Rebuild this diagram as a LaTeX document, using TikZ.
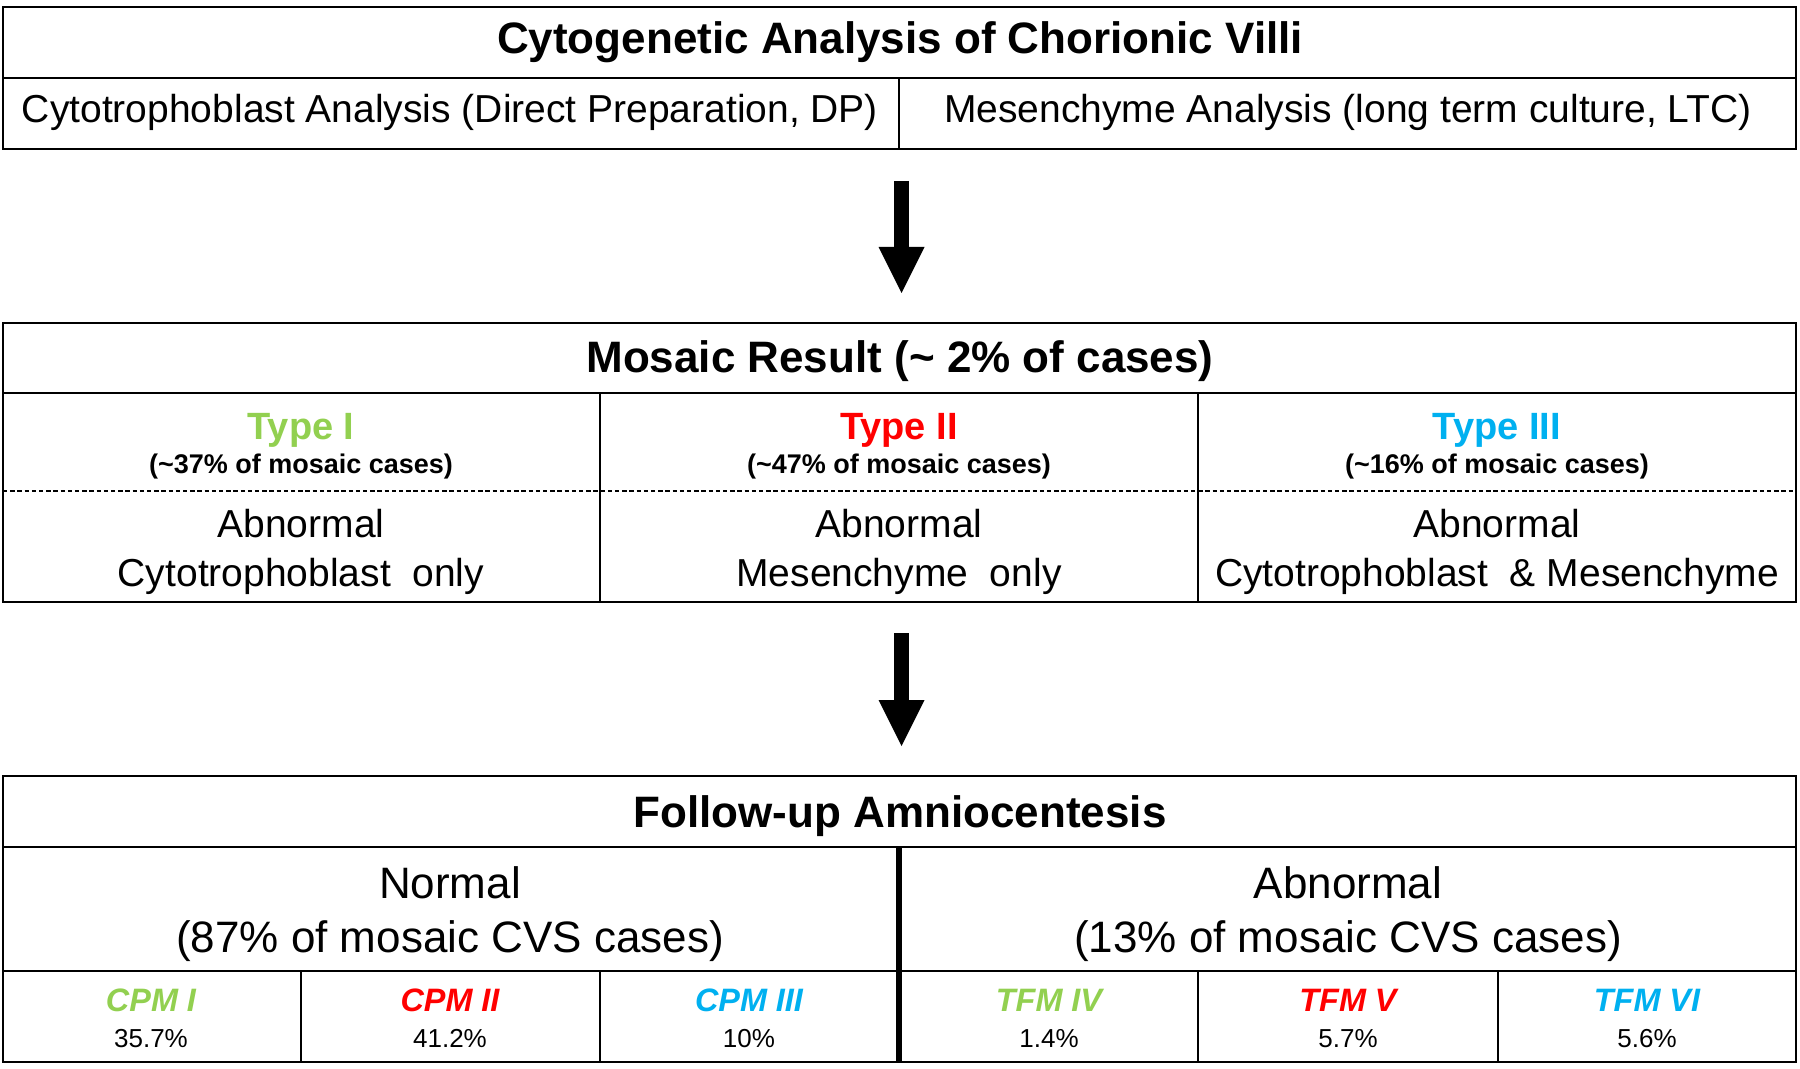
\documentclass[tikz,border=0pt]{standalone}
\usepackage{fontspec}
\setmainfont{Liberation Sans}
\usetikzlibrary{arrows.meta}
\definecolor{cgreen}{HTML}{92D050}
\definecolor{cred}{HTML}{FF0000}
\definecolor{cblue}{HTML}{00B0F0}
\begin{document}
\begin{tikzpicture}[x=0.5pt,y=-0.5pt,
  frame/.style={draw, line width=1.2pt, inner sep=0pt, outer sep=0pt, anchor=north west, minimum width=896.5pt},
  cellline/.style={line width=1.1pt},
  thickline/.style={line width=2.6pt},
  dashline/.style={line width=0.7pt, dash pattern=on 2.2pt off 1.4pt},
  lbl/.style={anchor=base, inner sep=0pt},
  titletxt/.style={lbl, font=\fontsize{22pt}{26pt}\selectfont\bfseries},
  rowtxt/.style={lbl, font=\fontsize{19.5pt}{23pt}\selectfont},
  typetxt/.style={lbl, font=\fontsize{19pt}{23pt}\selectfont\bfseries},
  smalltxt/.style={lbl, font=\fontsize{13.5pt}{16pt}\selectfont\bfseries},
  bigtxt/.style={lbl, font=\fontsize{22pt}{26pt}\selectfont},
  cpmtxt/.style={lbl, font=\fontsize{16.2pt}{19pt}\selectfont\bfseries\itshape},
  pcttxt/.style={lbl, font=\fontsize{13pt}{16pt}\selectfont},
  bigarrow/.style={line width=7.5pt, -{Triangle[width=23pt,length=23pt,line width=0pt]}}
]
\useasboundingbox (0,0) rectangle (1800,1069);
\fill[white] (0,0) rectangle (1800,1069);

% ---------- top box ----------
\node[frame, minimum height=71pt] (topbox) at (3,7) {};
\draw[cellline] (3,78) -- (1796,78);
\draw[cellline] (899,78) -- (899,149);
\node[titletxt] (t1) at (900,54) {Cytogenetic Analysis of Chorionic Villi};
\node[rowtxt] (t2) at (450,123) {Cytotrophoblast Analysis (Direct Preparation, DP)};
\node[rowtxt] (t3) at (1348,123) {Mesenchyme Analysis (long term culture, LTC)};

% ---------- middle box ----------
\node[frame, minimum height=139.5pt] (midbox) at (3,323) {};
\draw[cellline] (3,393) -- (1796,393);
\draw[cellline] (600,393) -- (600,602);
\draw[cellline] (1198,393) -- (1198,602);
\draw[dashline] (3,491) -- (1796,491);
\node[titletxt] (m1) at (900,373) {Mosaic Result (\textasciitilde{} 2\% of cases)};
\node[typetxt, text=cgreen] (ty1) at (301,440) {Type I};
\node[typetxt, text=cred] (ty2) at (899,440) {Type II};
\node[typetxt, text=cblue] (ty3) at (1497,440) {Type III};
\node[smalltxt] (p1) at (301,474) {(\textasciitilde37\% of mosaic cases)};
\node[smalltxt] (p2) at (899,474) {(\textasciitilde47\% of mosaic cases)};
\node[smalltxt] (p3) at (1497,474) {(\textasciitilde16\% of mosaic cases)};
\node[rowtxt] (a1) at (301,538) {Abnormal};
\node[rowtxt] (b1) at (301,587) {Cytotrophoblast\ \ only};
\node[rowtxt] (a2) at (899,538) {Abnormal};
\node[rowtxt] (b2) at (899,587) {Mesenchyme\ \ only};
\node[rowtxt] (a3) at (1497,538) {Abnormal};
\node[rowtxt] (b3) at (1497,587) {Cytotrophoblast\ \ \& Mesenchyme};

% ---------- bottom box ----------
\node[frame, minimum height=143pt] (botbox) at (3,776) {};
\draw[cellline] (3,847) -- (1796,847);
\draw[cellline] (3,971) -- (1796,971);
\draw[thickline] (899,847) -- (899,1062);
\foreach \xx in {301,600,1198,1498} \draw[cellline] (\xx,971) -- (\xx,1062);
\node[titletxt] (f1) at (900,827) {Follow-up Amniocentesis};
\node[bigtxt] (n1) at (450,898) {Normal};
\node[bigtxt] (n2) at (450,952) {(87\% of mosaic CVS cases)};
\node[bigtxt] (n3) at (1348,898) {Abnormal};
\node[bigtxt] (n4) at (1348,952) {(13\% of mosaic CVS cases)};
\node[cpmtxt, text=cgreen] (c1) at (151,1011) {CPM I};
\node[cpmtxt, text=cred] (c2) at (450,1011) {CPM II};
\node[cpmtxt, text=cblue] (c3) at (749,1011) {CPM III};
\node[cpmtxt, text=cgreen] (c4) at (1049,1011) {TFM IV};
\node[cpmtxt, text=cred] (c5) at (1348,1011) {TFM V};
\node[cpmtxt, text=cblue] (c6) at (1647,1011) {TFM VI};
\node[pcttxt] (q1) at (151,1047) {35.7\%};
\node[pcttxt] (q2) at (450,1047) {41.2\%};
\node[pcttxt] (q3) at (749,1047) {10\%};
\node[pcttxt] (q4) at (1049,1047) {1.4\%};
\node[pcttxt] (q5) at (1348,1047) {5.7\%};
\node[pcttxt] (q6) at (1647,1047) {5.6\%};

% ---------- arrows ----------
\draw[bigarrow] ([xshift=1pt,yshift=-16pt]topbox.south) -- ([xshift=1pt,yshift=15pt]midbox.north);
\draw[bigarrow] ([xshift=1pt,yshift=-15.5pt]midbox.south) -- ([xshift=1pt,yshift=15pt]botbox.north);
\end{tikzpicture}
\end{document}
